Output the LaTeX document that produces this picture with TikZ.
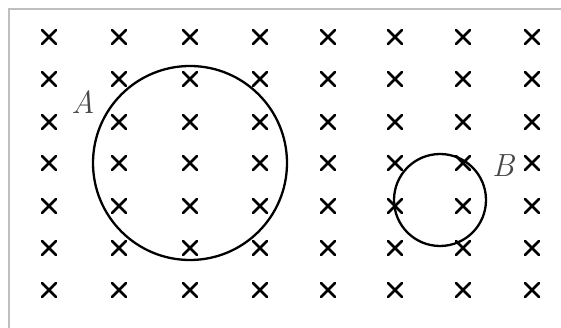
\documentclass[tikz,border=0pt]{standalone}
\usetikzlibrary{positioning}

\begin{document}
\begin{tikzpicture}[x=1pt,y=-1pt]
		\tikzstyle{frame} = [draw=black!25,line width=1.5pt]
		\tikzstyle{cross} = [line width=2.6pt,line cap=round]
		\tikzstyle{loop} = [line width=2.3pt]
		\tikzstyle{lbl} = [text=black!72,font=\fontsize{32}{36}\selectfont\itshape,inner sep=0pt]
		
		\useasboundingbox (0,0) rectangle (561,328);
		\draw[frame] (9,328) -- (9,9) -- (561,9);
		
		% field crosses
		\foreach \cx in {49,119,190,260,328,395,463,532}
			\foreach \cy in {37,79,122,163,206,248,290}
				\draw[cross] (\cx-7,\cy-7) -- (\cx+7,\cy+7) (\cx-7,\cy+7) -- (\cx+7,\cy-7);
		
		% loops
		\coordinate (ca) at (190,163);
		\coordinate (cb) at (440,200);
		\draw[loop] (ca) circle (97);
		\draw[loop] (cb) circle (46);
		
		\node[lbl] (la) at (83,102) {A};
		\node[lbl] (lb) at (503,166) {B};
	\end{tikzpicture}
\end{document}
